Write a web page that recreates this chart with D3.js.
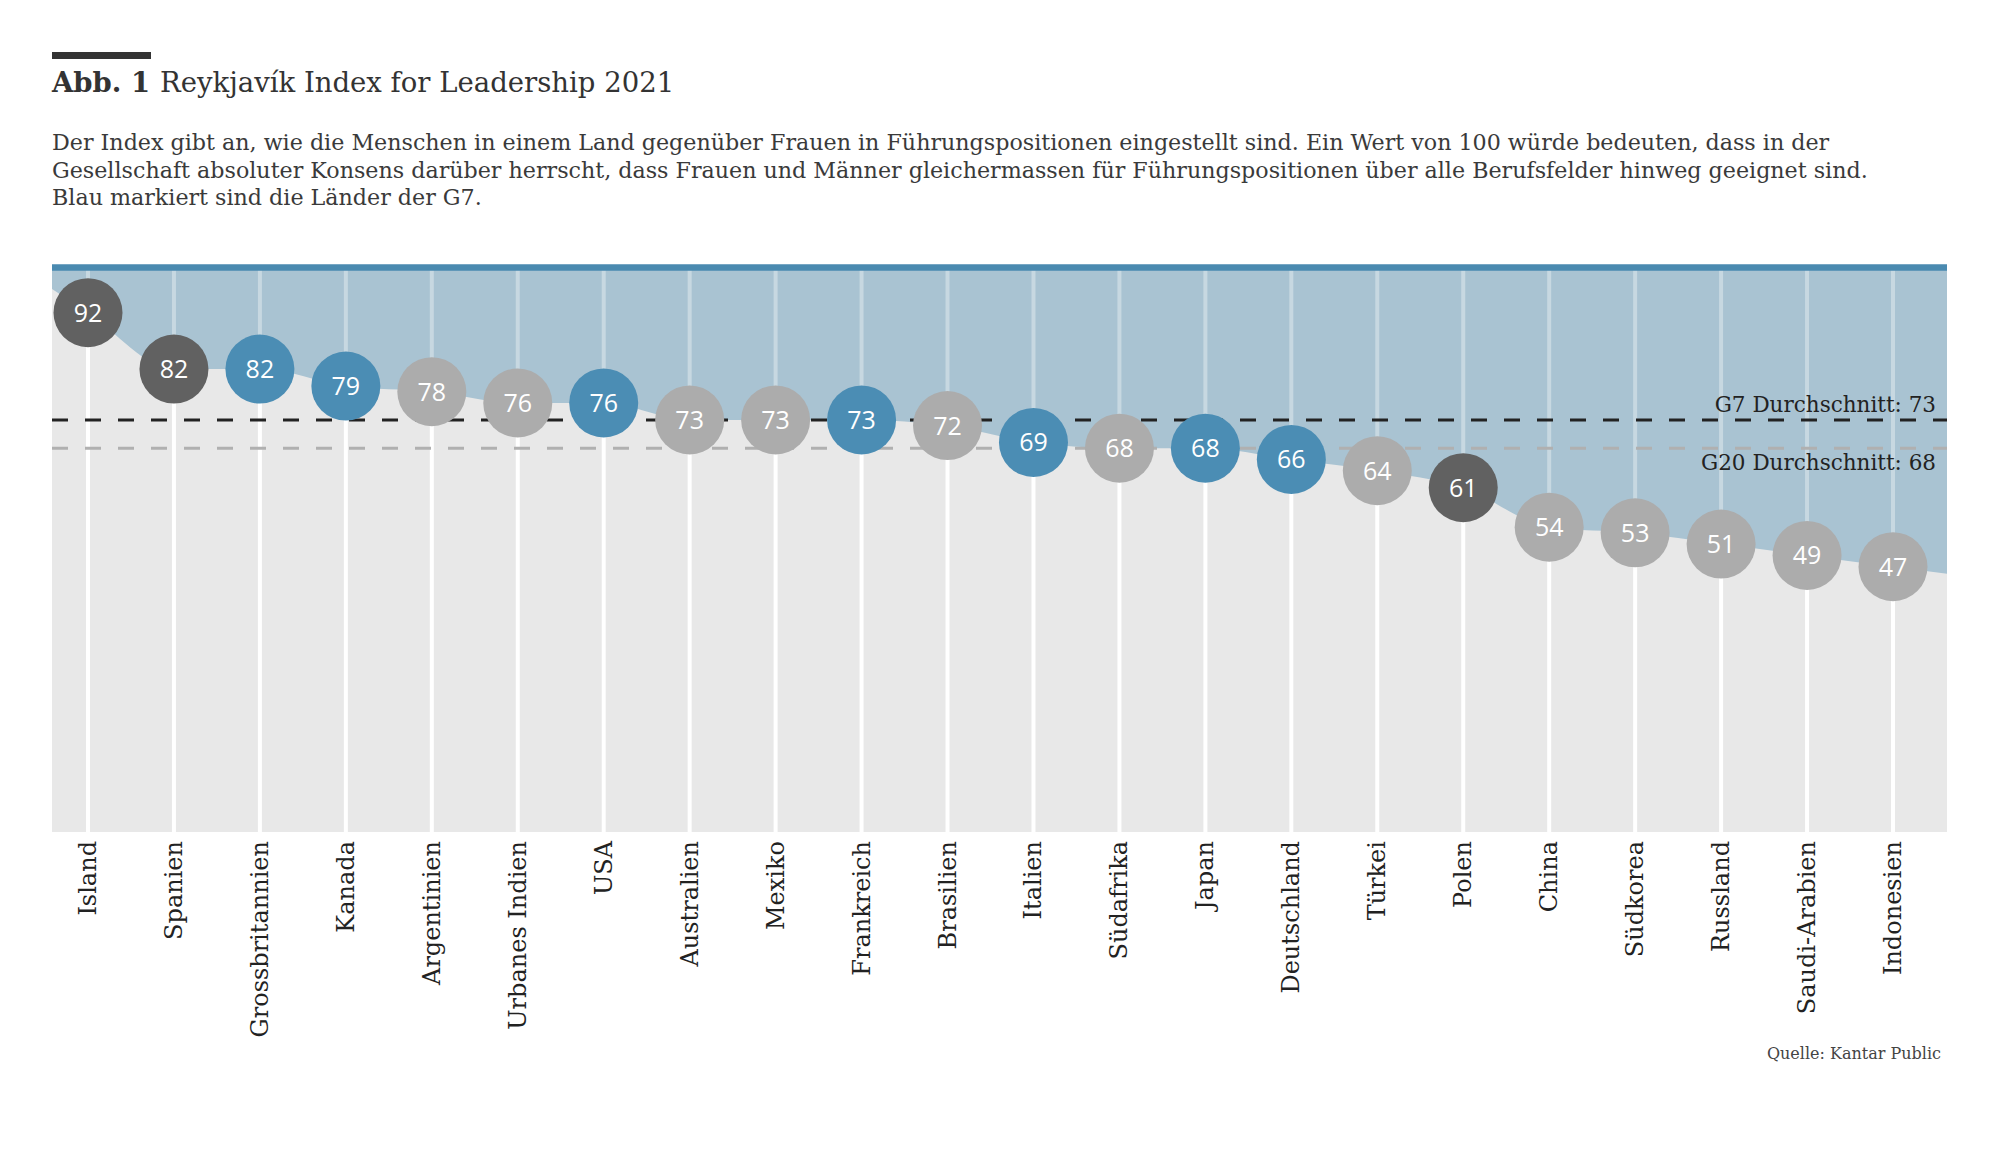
<!DOCTYPE html>
<html>
<head>
<meta charset="utf-8">
<script src="https://cdn.jsdelivr.net/npm/d3@7"></script>
<style>
  body { margin: 0; background: #fff; }
  text { font-family: "DejaVu Serif", serif; }
  .num { font-family: "Open Sans", "Noto Sans", sans-serif; }
</style>
</head>
<body>
<svg id="chart" width="2000" height="1154"></svg>
<script>
// chart data
const countries = ["Island", "Spanien", "Grossbritannien", "Kanada", "Argentinien", "Urbanes Indien",
  "USA", "Australien", "Mexiko", "Frankreich", "Brasilien", "Italien", "Südafrika", "Japan",
  "Deutschland", "Türkei", "Polen", "China", "Südkorea", "Russland", "Saudi-Arabien", "Indonesien"];
const values = [92, 82, 82, 79, 78, 76, 76, 73, 73, 73, 72, 69, 68, 68, 66, 64, 61, 54, 53, 51, 49, 47];
// g7 = blue, g20 = light grey, other = dark grey
const groups = ["other", "other", "g7", "g7", "g20", "g20", "g7", "g20", "g20", "g7", "g20", "g7",
  "g20", "g7", "g7", "g20", "other", "g20", "g20", "g20", "g20", "g20"];
const averages = [
  {label: "G7 Durchschnitt: 73", value: 73},
  {label: "G20 Durchschnitt: 68", value: 68}
];

const title = "Reykjavík Index for Leadership 2021";
const description = [
  "Der Index gibt an, wie die Menschen in einem Land gegenüber Frauen in Führungspositionen eingestellt sind. Ein Wert von 100 würde bedeuten, dass in der",
  "Gesellschaft absoluter Konsens darüber herrscht, dass Frauen und Männer gleichermassen für Führungspositionen über alle Berufsfelder hinweg geeignet sind.",
  "Blau markiert sind die Länder der G7."
];
const source = "Quelle: Kantar Public";

const data = countries.map((c, i) => ({country: c, value: values[i], group: groups[i]}));

const svg = d3.select("#chart");

// plot box
const plot = {left: 52, right: 1947, top: 267.5, bottom: 832};

const x = d3.scalePoint()
            .domain(countries)
            .range([88, 1893]);
const y = d3.scaleLinear()
            .domain([0, 100])
            .range([plot.bottom, plot.top]);

const colors = {g7: "#4b8db4", g20: "#acacac", other: "#616161"};

// header
svg.append("rect")
   .attr("x", 52).attr("y", 52)
   .attr("width", 99).attr("height", 7)
   .attr("fill", "#333");

const head = svg.append("text")
   .attr("x", 52).attr("y", 92)
   .attr("font-size", 27.5)
   .attr("fill", "#333");
head.append("tspan").attr("font-weight", "bold").text("Abb. 1");
head.append("tspan").attr("dx", 10).text(title);

svg.append("g")
   .selectAll("text")
   .data(description)
   .join("text")
   .attr("x", 52)
   .attr("y", (d, i) => 150 + i * 27.5)
   .attr("font-size", 22.2)
   .attr("fill", "#3a3a3a")
   .text(d => d);

// curve through the values, extended linearly to the plot edges
const pts = data.map(d => [x(d.country), y(d.value)]);
const extend = (a, b, px) => [px, a[1] + (b[1] - a[1]) * (px - a[0]) / (b[0] - a[0])];
const n = pts.length;
const curvePts = [extend(pts[0], pts[1], plot.left), ...pts, extend(pts[n - 2], pts[n - 1], plot.right)];

svg.append("rect")
   .attr("x", plot.left).attr("y", plot.top)
   .attr("width", plot.right - plot.left)
   .attr("height", plot.bottom - plot.top)
   .attr("fill", "#a9c3d2");

const area = d3.area()
               .x(d => d[0])
               .y0(plot.bottom)
               .y1(d => d[1])
               .curve(d3.curveMonotoneX);

svg.append("path")
   .attr("d", area(curvePts))
   .attr("fill", "#e8e8e8");

// vertical lines
const lines = svg.append("g");
lines.selectAll("line.up")
     .data(data)
     .join("line")
     .attr("class", "up")
     .attr("x1", d => x(d.country)).attr("x2", d => x(d.country))
     .attr("y1", plot.top).attr("y2", d => y(d.value))
     .attr("stroke", "#fff")
     .attr("stroke-opacity", 0.35)
     .attr("stroke-width", 4);
lines.selectAll("line.down")
     .data(data)
     .join("line")
     .attr("class", "down")
     .attr("x1", d => x(d.country)).attr("x2", d => x(d.country))
     .attr("y1", d => y(d.value)).attr("y2", plot.bottom)
     .attr("stroke", "#fff")
     .attr("stroke-width", 4);

// top line at 100
svg.append("line")
   .attr("x1", plot.left).attr("x2", plot.right)
   .attr("y1", y(100)).attr("y2", y(100))
   .attr("stroke", "#4a8ab0")
   .attr("stroke-width", 6.5);

// average lines
svg.append("g")
   .selectAll("line")
   .data(averages)
   .join("line")
   .attr("x1", plot.left).attr("x2", plot.right)
   .attr("y1", d => y(d.value)).attr("y2", d => y(d.value))
   .attr("stroke", (d, i) => i === 0 ? "#222" : "#b0b0b0")
   .attr("stroke-width", 3)
   .attr("stroke-dasharray", "16 17");

svg.append("g")
   .selectAll("text")
   .data(averages)
   .join("text")
   .attr("x", 1936)
   .attr("y", (d, i) => i === 0 ? y(d.value) - 8 : y(d.value) + 22)
   .attr("text-anchor", "end")
   .attr("font-size", 21.5)
   .attr("fill", "#222")
   .text(d => d.label);

// dots
const dots = svg.append("g")
   .selectAll("g")
   .data(data)
   .join("g")
   .attr("transform", d => `translate(${x(d.country)}, ${y(d.value)})`);
dots.append("circle")
    .attr("r", 34.5)
    .attr("fill", d => colors[d.group]);
dots.append("text")
    .attr("class", "num")
    .attr("y", 9)
    .attr("text-anchor", "middle")
    .attr("font-size", 25)
    .attr("font-weight", 500)
    .attr("fill", "#fff")
    .text(d => d.value);

// country labels
svg.append("g")
   .selectAll("text")
   .data(data)
   .join("text")
   .attr("transform", d => `translate(${x(d.country) + 8}, 841) rotate(-90)`)
   .attr("text-anchor", "end")
   .attr("font-size", 24)
   .attr("fill", "#222")
   .text(d => d.country);

svg.append("text")
   .attr("x", 1941).attr("y", 1059)
   .attr("text-anchor", "end")
   .attr("font-size", 16)
   .attr("fill", "#444")
   .text(source);
</script>
</body>
</html>
